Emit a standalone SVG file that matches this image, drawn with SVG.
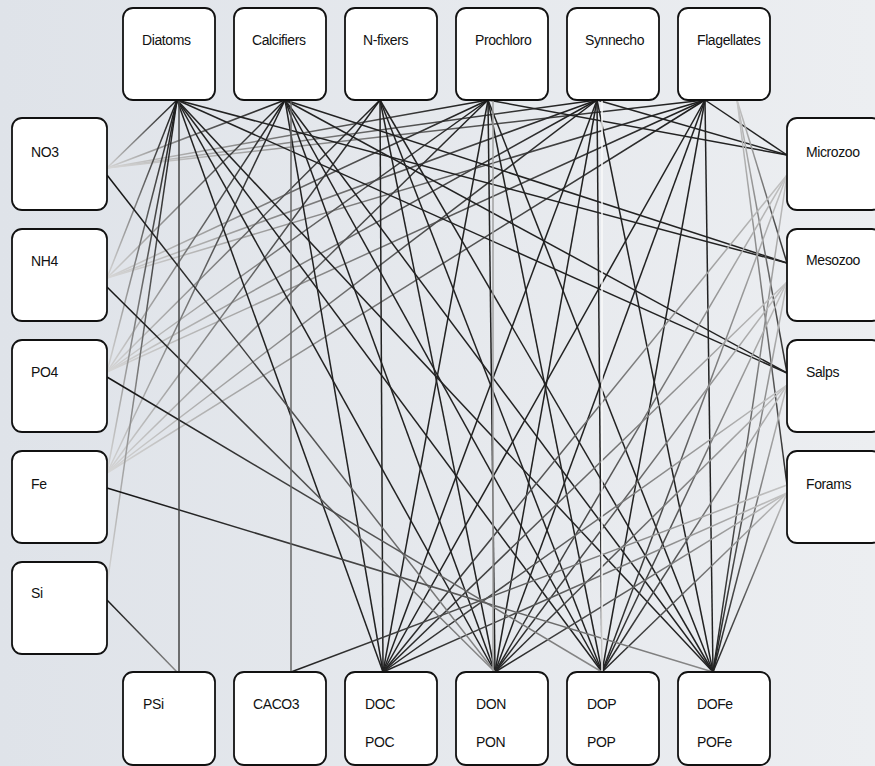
<svg xmlns="http://www.w3.org/2000/svg" width="875" height="766" viewBox="0 0 875 766">
<defs>
<linearGradient id="bg" x1="0" y1="0" x2="1" y2="0"><stop offset="0" stop-color="#dfe3e9"/><stop offset="1" stop-color="#eceef1"/></linearGradient>
<linearGradient id="gBL" x1="0" y1="1" x2="1" y2="0"><stop offset="0" stop-color="#d6d6d6"/><stop offset="0.6" stop-color="#555"/><stop offset="1" stop-color="#1a1a1a"/></linearGradient>
<linearGradient id="gTL" x1="0" y1="0" x2="1" y2="1"><stop offset="0" stop-color="#c8c8c8"/><stop offset="1" stop-color="#2a2a2a"/></linearGradient>
<linearGradient id="gTR" x1="1" y1="0" x2="0" y2="1"><stop offset="0" stop-color="#c4c4c4"/><stop offset="0.6" stop-color="#555"/><stop offset="1" stop-color="#222"/></linearGradient>
<linearGradient id="gBR" x1="1" y1="1" x2="0" y2="0"><stop offset="0" stop-color="#8a8a8a"/><stop offset="1" stop-color="#141414"/></linearGradient>
</defs>
<style>
.box{fill:#fff;stroke:#111;stroke-width:1.8}
.t{font-family:"Liberation Sans",Arial,sans-serif;font-size:14px;fill:#111;letter-spacing:-0.4px}
#connectors line{stroke-width:1.5;fill:none}
.up{stroke:url(#gBL)}
.dk{stroke:#222}
.fg{stroke:url(#gTL)}
.zd{stroke:url(#gTR)}
.rm{stroke:url(#gBR)}
</style>
<rect width="875" height="766" fill="url(#bg)"/>
<g id="connectors">
<line class="up" x1="107" y1="168" x2="177" y2="100"/>
<line class="up" x1="107" y1="168" x2="285" y2="100"/>
<line class="up" x1="107" y1="168" x2="488" y2="100"/>
<line class="up" x1="107" y1="168" x2="597" y2="100"/>
<line class="up" x1="107" y1="168" x2="705" y2="100"/>
<line class="up" x1="107" y1="278" x2="177" y2="100"/>
<line class="up" x1="107" y1="278" x2="285" y2="100"/>
<line class="up" x1="107" y1="278" x2="488" y2="100"/>
<line class="up" x1="107" y1="278" x2="597" y2="100"/>
<line class="up" x1="107" y1="278" x2="705" y2="100"/>
<line class="up" x1="107" y1="372" x2="177" y2="100"/>
<line class="up" x1="107" y1="372" x2="285" y2="100"/>
<line class="up" x1="107" y1="372" x2="380" y2="100"/>
<line class="up" x1="107" y1="372" x2="488" y2="100"/>
<line class="up" x1="107" y1="372" x2="597" y2="100"/>
<line class="up" x1="107" y1="372" x2="705" y2="100"/>
<line class="up" x1="107" y1="473" x2="177" y2="100"/>
<line class="up" x1="107" y1="473" x2="285" y2="100"/>
<line class="up" x1="107" y1="473" x2="380" y2="100"/>
<line class="up" x1="107" y1="473" x2="488" y2="100"/>
<line class="up" x1="107" y1="473" x2="597" y2="100"/>
<line class="up" x1="107" y1="473" x2="705" y2="100"/>
<line class="up" x1="107" y1="585" x2="177" y2="100"/>
<line class="dk" x1="177" y1="100" x2="383" y2="672"/>
<line class="dk" x1="177" y1="100" x2="495" y2="672"/>
<line class="dk" x1="177" y1="100" x2="602" y2="672"/>
<line class="dk" x1="177" y1="100" x2="713" y2="672"/>
<line class="dk" x1="285" y1="100" x2="383" y2="672"/>
<line class="dk" x1="285" y1="100" x2="495" y2="672"/>
<line class="dk" x1="285" y1="100" x2="602" y2="672"/>
<line class="dk" x1="285" y1="100" x2="713" y2="672"/>
<line class="dk" x1="380" y1="100" x2="383" y2="672"/>
<line class="dk" x1="380" y1="100" x2="495" y2="672"/>
<line class="dk" x1="380" y1="100" x2="602" y2="672"/>
<line class="dk" x1="380" y1="100" x2="713" y2="672"/>
<line class="dk" x1="488" y1="100" x2="383" y2="672"/>
<line class="dk" x1="488" y1="100" x2="495" y2="672"/>
<line class="dk" x1="488" y1="100" x2="602" y2="672"/>
<line class="dk" x1="488" y1="100" x2="713" y2="672"/>
<line class="dk" x1="597" y1="100" x2="383" y2="672"/>
<line class="dk" x1="597" y1="100" x2="495" y2="672"/>
<line class="dk" x1="597" y1="100" x2="602" y2="672"/>
<line class="dk" x1="597" y1="100" x2="713" y2="672"/>
<line class="dk" x1="705" y1="100" x2="383" y2="672"/>
<line class="dk" x1="705" y1="100" x2="495" y2="672"/>
<line class="dk" x1="705" y1="100" x2="602" y2="672"/>
<line class="dk" x1="705" y1="100" x2="713" y2="672"/>
<line class="dk" x1="177" y1="100" x2="787" y2="263"/>
<line class="dk" x1="177" y1="100" x2="787" y2="373"/>
<line class="dk" x1="285" y1="100" x2="787" y2="263"/>
<line class="dk" x1="285" y1="100" x2="787" y2="373"/>
<line class="dk" x1="488" y1="100" x2="787" y2="155"/>
<line class="dk" x1="597" y1="100" x2="787" y2="155"/>
<line class="dk" x1="705" y1="100" x2="787" y2="155"/>
<line class="fg" x1="737" y1="100" x2="787" y2="263"/>
<line class="fg" x1="737" y1="100" x2="787" y2="373"/>
<line class="fg" x1="737" y1="100" x2="787" y2="485"/>
<line class="zd" x1="787" y1="175" x2="383" y2="672"/>
<line class="zd" x1="787" y1="175" x2="495" y2="672"/>
<line class="zd" x1="787" y1="175" x2="602" y2="672"/>
<line class="zd" x1="787" y1="175" x2="713" y2="672"/>
<line class="zd" x1="787" y1="282" x2="383" y2="672"/>
<line class="zd" x1="787" y1="282" x2="495" y2="672"/>
<line class="zd" x1="787" y1="282" x2="602" y2="672"/>
<line class="zd" x1="787" y1="282" x2="713" y2="672"/>
<line class="zd" x1="787" y1="385" x2="383" y2="672"/>
<line class="zd" x1="787" y1="385" x2="495" y2="672"/>
<line class="zd" x1="787" y1="385" x2="602" y2="672"/>
<line class="zd" x1="787" y1="385" x2="713" y2="672"/>
<line class="zd" x1="787" y1="493" x2="383" y2="672"/>
<line class="zd" x1="787" y1="493" x2="495" y2="672"/>
<line class="zd" x1="787" y1="493" x2="602" y2="672"/>
<line class="zd" x1="787" y1="493" x2="713" y2="672"/>
<line class="zd" x1="787" y1="485" x2="291" y2="672"/>
<line class="rm" x1="495" y1="672" x2="107" y2="175"/>
<line class="rm" x1="495" y1="672" x2="107" y2="287"/>
<line class="rm" x1="602" y1="672" x2="107" y2="377"/>
<line class="rm" x1="713" y1="672" x2="107" y2="488"/>
<line class="rm" x1="177" y1="672" x2="107" y2="600"/>
<line x1="179" y1="100" x2="179" y2="672" stroke="#444"/>
<line x1="291" y1="100" x2="291" y2="672" stroke="#666"/>
<line x1="493" y1="100" x2="493" y2="672" stroke="#a0a0a0"/>
<line x1="602" y1="100" x2="602" y2="672" stroke="#fafafa"/>
</g>
<g id="n-diatoms"><rect class="box" x="123" y="8" width="92" height="92" rx="10"/><text class="t" x="142" y="45">Diatoms</text></g>
<g id="n-calcifiers"><rect class="box" x="234" y="8" width="92" height="92" rx="10"/><text class="t" x="252" y="45">Calcifiers</text></g>
<g id="n-nfixers"><rect class="box" x="345" y="8" width="92" height="92" rx="10"/><text class="t" x="363" y="45">N-fixers</text></g>
<g id="n-prochloro"><rect class="box" x="456" y="8" width="92" height="92" rx="10"/><text class="t" x="475" y="45">Prochloro</text></g>
<g id="n-synnecho"><rect class="box" x="567" y="8" width="92" height="92" rx="10"/><text class="t" x="585" y="45">Synnecho</text></g>
<g id="n-flagellates"><rect class="box" x="678" y="8" width="92" height="92" rx="10"/><text class="t" x="697" y="45">Flagellates</text></g>
<g id="n-no3"><rect class="box" x="12" y="118" width="95" height="92" rx="10"/><text class="t" x="31" y="157">NO3</text></g>
<g id="n-nh4"><rect class="box" x="12" y="229" width="95" height="92" rx="10"/><text class="t" x="31" y="266">NH4</text></g>
<g id="n-po4"><rect class="box" x="12" y="340" width="95" height="92" rx="10"/><text class="t" x="31" y="377">PO4</text></g>
<g id="n-fe"><rect class="box" x="12" y="451" width="95" height="92" rx="10"/><text class="t" x="31" y="489">Fe</text></g>
<g id="n-si"><rect class="box" x="12" y="562" width="95" height="92" rx="10"/><text class="t" x="31" y="598">Si</text></g>
<g id="n-microzoo"><rect class="box" x="787" y="118" width="95" height="92" rx="10"/><text class="t" x="806" y="157">Microzoo</text></g>
<g id="n-mesozoo"><rect class="box" x="787" y="229" width="95" height="92" rx="10"/><text class="t" x="806" y="265">Mesozoo</text></g>
<g id="n-salps"><rect class="box" x="787" y="340" width="95" height="92" rx="10"/><text class="t" x="806" y="377">Salps</text></g>
<g id="n-forams"><rect class="box" x="787" y="451" width="95" height="92" rx="10"/><text class="t" x="806" y="489">Forams</text></g>
<g id="n-psi"><rect class="box" x="123" y="672" width="92" height="93" rx="10"/><text class="t" x="143" y="709">PSi</text></g>
<g id="n-caco3"><rect class="box" x="234" y="672" width="92" height="93" rx="10"/><text class="t" x="253" y="709">CACO3</text></g>
<g id="n-doc"><rect class="box" x="345" y="672" width="92" height="93" rx="10"/><text class="t" x="365" y="709">DOC</text><text class="t" x="365" y="747">POC</text></g>
<g id="n-don"><rect class="box" x="456" y="672" width="92" height="93" rx="10"/><text class="t" x="476" y="709">DON</text><text class="t" x="476" y="747">PON</text></g>
<g id="n-dop"><rect class="box" x="567" y="672" width="92" height="93" rx="10"/><text class="t" x="587" y="709">DOP</text><text class="t" x="587" y="747">POP</text></g>
<g id="n-dofe"><rect class="box" x="678" y="672" width="92" height="93" rx="10"/><text class="t" x="697" y="709">DOFe</text><text class="t" x="697" y="747">POFe</text></g>
</svg>
